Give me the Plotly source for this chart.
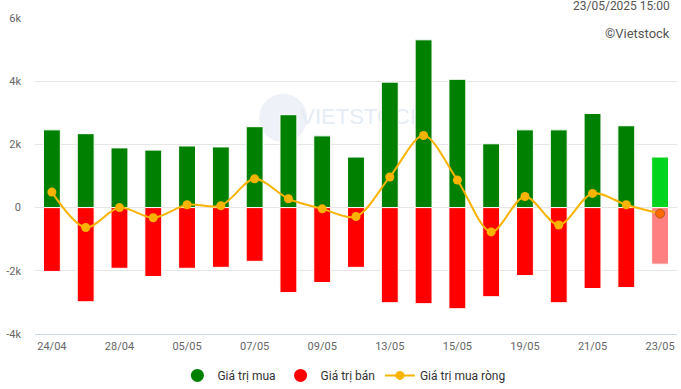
import plotly.graph_objects as go

dates = ["24/04", "25/04", "28/04", "29/04", "05/05", "06/05", "07/05", "08/05", "09/05", "12/05",
         "13/05", "14/05", "15/05", "16/05", "19/05", "20/05", "21/05", "22/05", "23/05"]
buy = [2460, 2340, 1890, 1820, 1950, 1920, 2560, 2940, 2270, 1600,
       3970, 5310, 4060, 2020, 2460, 2460, 2980, 2590, 1600]
sell = [-2020, -2980, -1920, -2180, -1920, -1890, -1700, -2690, -2370, -1890,
        -3010, -3040, -3200, -2820, -2150, -3010, -2560, -2530, -1790]
net = [490, -630, 0, -320, 90, 60, 910, 280, -40, -280,
       970, 2280, 870, -770, 350, -550, 450, 90, -190]
yticks = [-4000, -2000, 0, 2000, 4000, 6000]
ytext = ["-4k", "-2k", "0", "2k", "4k", "6k"]

GREEN, RED, LINE = "#008000", "#ff0000", "#f9b300"
n = len(dates)
buy_colors = [GREEN] * (n - 1) + ["#00d41c"]
sell_colors = [RED] * (n - 1) + ["#ff8080"]
net_colors = [LINE] * (n - 1) + ["#ff6a00"]
net_lines = [LINE] * (n - 1) + ["#b05a20"]

fig = go.Figure()
fig.add_trace(go.Bar(x=dates, y=buy, marker=dict(color=buy_colors, line=dict(color="white", width=1)),
                     width=0.5, showlegend=False, hoverinfo="skip"))
fig.add_trace(go.Bar(x=dates, y=sell, marker=dict(color=sell_colors, line=dict(color="white", width=1)),
                     width=0.5, showlegend=False, hoverinfo="skip"))
fig.add_trace(go.Scatter(x=dates, y=net, mode="lines+markers",
                         line=dict(color=LINE, width=2, shape="spline", smoothing=0.9),
                         marker=dict(size=9, color=net_colors, line=dict(color=net_lines, width=[0] * (n - 1) + [1])),
                         showlegend=False))

# legend entries
fig.add_trace(go.Scatter(x=[None], y=[None], mode="markers", name="Giá trị mua",
                         marker=dict(color=GREEN, size=13, symbol="circle")))
fig.add_trace(go.Scatter(x=[None], y=[None], mode="markers", name="Giá trị bán",
                         marker=dict(color=RED, size=13, symbol="circle")))
fig.add_trace(go.Scatter(x=[None], y=[None], mode="lines+markers", name="Giá trị mua ròng",
                         line=dict(color=LINE, width=2), marker=dict(color=LINE, size=9)))

fig.update_layout(
    width=681, height=389,
    margin=dict(l=35, r=4, t=18, b=55),
    paper_bgcolor="white", plot_bgcolor="white",
    barmode="relative", bargap=0.5,
    font=dict(family="Roboto, Arial, sans-serif", color="#666666", size=11),
    legend=dict(orientation="h", xref="container", x=0.505, xanchor="center",
                yref="container", y=0.035, yanchor="middle",
                font=dict(size=12, color="#333333"), itemwidth=30, tracegroupgap=0),
    xaxis=dict(type="category", tickvals=dates[::2], ticktext=dates[::2],
               showgrid=False, showline=True, linecolor="#ccd6eb", linewidth=1,
               ticks="", tickfont=dict(size=11, color="#666666"), range=[-0.5, n - 0.5],
               ticklabelstandoff=2),
    yaxis=dict(range=[-4000, 6000], tickvals=yticks, ticktext=ytext,
               gridcolor="#e6e6e6", gridwidth=1, zeroline=False,
               tickfont=dict(size=11, color="#666666"), ticklabelstandoff=13),
    shapes=[
        dict(type="circle", xref="paper", yref="paper", x0=0.349, x1=0.424, y0=0.607, y1=0.760,
             fillcolor="#eef1f7", line=dict(width=0), layer="below"),
        dict(type="rect", xref="paper", yref="paper", x0=0.42, x1=0.6, y0=0.66, y1=0.73,
             line=dict(width=0), fillcolor="rgba(0,0,0,0)", layer="below",
             label=dict(text="VIETSTOCK", font=dict(size=22, color="#e6ecf5", family="Arial Black, Arial"))),
    ],
    annotations=[
        dict(text="23/05/2025 15:00", xref="paper", yref="paper", x=1, y=1.01, xshift=-5,
             xanchor="right", yanchor="bottom", showarrow=False, font=dict(size=12, color="#555555")),
        dict(text="©Vietstock", xref="paper", yref="paper", x=1, y=0.95, xshift=-5, xanchor="right",
             yanchor="middle", showarrow=False, font=dict(size=13, color="#555555")),
    ],
)

fig.write_html("out.html", config={"displayModeBar": False},
               post_script="document.body.style.margin='0';document.body.style.overflow='hidden';")
